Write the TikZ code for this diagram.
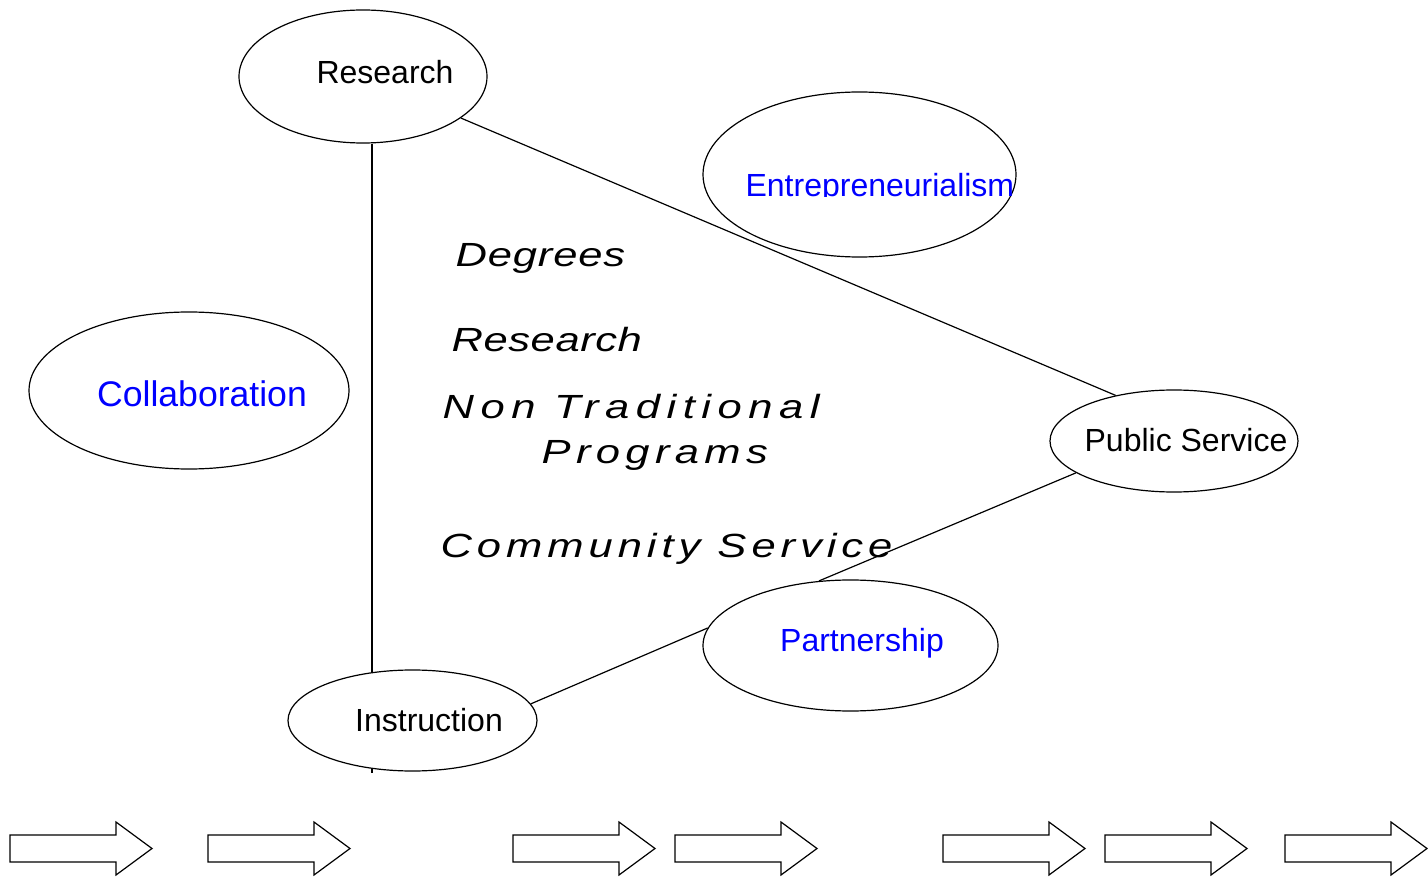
\documentclass[tikz,border=0pt]{standalone}
\usepackage{fontspec}
\setmainfont{Liberation Sans}
\newfontfamily\widefont[FakeStretch=1.3]{Liberation Sans}
\usetikzlibrary{shapes.geometric,backgrounds}
\begin{document}
\begin{tikzpicture}[x=1pt,y=-1pt,line width=1.2pt,
  ell/.style={draw,ellipse,fill=white,inner sep=0pt},
  lbl/.style={font=\fontsize{32}{38}\selectfont,anchor=base,inner sep=0pt},
  blu/.style={lbl,text=blue},
  itl/.style={font=\widefont\itshape\fontsize{33.5}{40}\selectfont,anchor=base west,inner sep=0pt},
  conn/.style={draw,line width=1.2pt},
  blockarrow/.style={draw,line width=1.2pt,line join=miter}]
\useasboundingbox (0,0) rectangle (1428,877);

% ellipses
\node[ell,minimum width=248pt,minimum height=133pt] (research) at (363,76.5) {};
\node[ell,minimum width=313pt,minimum height=165pt] (entre) at (859.5,174.5) {};
\node[ell,minimum width=320pt,minimum height=157pt] (collab) at (189,390.5) {};
\node[ell,minimum width=248pt,minimum height=102pt] (public) at (1174,441) {};
\node[ell,minimum width=295pt,minimum height=131pt] (partner) at (850.5,645.5) {};
\node[ell,minimum width=249pt,minimum height=101pt] (instr) at (412.5,720.5) {};
\coordinate (instbot) at (372,773);

% labels
\node[lbl] (researchtxt) at (385,83.5) {Research};
\begin{scope}
  \clip (700,150) rectangle (1020,197);
  \node[blu,anchor=base west] (entretxt) at (745,196.5) {Entrepreneurialism};
\end{scope}
\node[blu,font=\fontsize{35.6}{42}\selectfont] (collabtxt) at (202,406.5) {Collaboration};
\node[lbl] (publictxt) at (1186,451.5) {Public Service};
\node[blu] (partnertxt) at (862,651) {Partnership};
\node[lbl] (instrtxt) at (429,731.5) {Instruction};

% italic middle texts
\node[itl] (deg) at (455,267) {\addfontfeatures{LetterSpace=2.5}Degrees};
\node[itl] (res2) at (451,352) {\addfontfeatures{LetterSpace=1.7}Research};
\node[itl] (nontrad) at (442,418) {\addfontfeatures{LetterSpace=19.5}Non Traditional};
\node[itl] (prog) at (541,463) {\addfontfeatures{LetterSpace=16}Programs};
\node[itl] (comm) at (440,557) {\addfontfeatures{LetterSpace=14.8}Community Service};

% connectors
\begin{scope}[on background layer]
  \draw[conn] (research.south -| instbot) -- (instbot);
  \draw[conn] (research.-23.2) -- (public.142.7);
  \draw[conn] (public.-162.6) -- (partner.116.4);
  \draw[conn] (partner.173) -- (instr.8.5);
\end{scope}

% block arrows
\foreach \x in {10,208,513,675,943,1105,1285} {
  \draw[blockarrow] (\x,835) -- (\x+106,835) -- (\x+106,822) -- (\x+142,848.5)
    -- (\x+106,875) -- (\x+106,862) -- (\x,862) -- cycle;
}
\end{tikzpicture}
\end{document}
